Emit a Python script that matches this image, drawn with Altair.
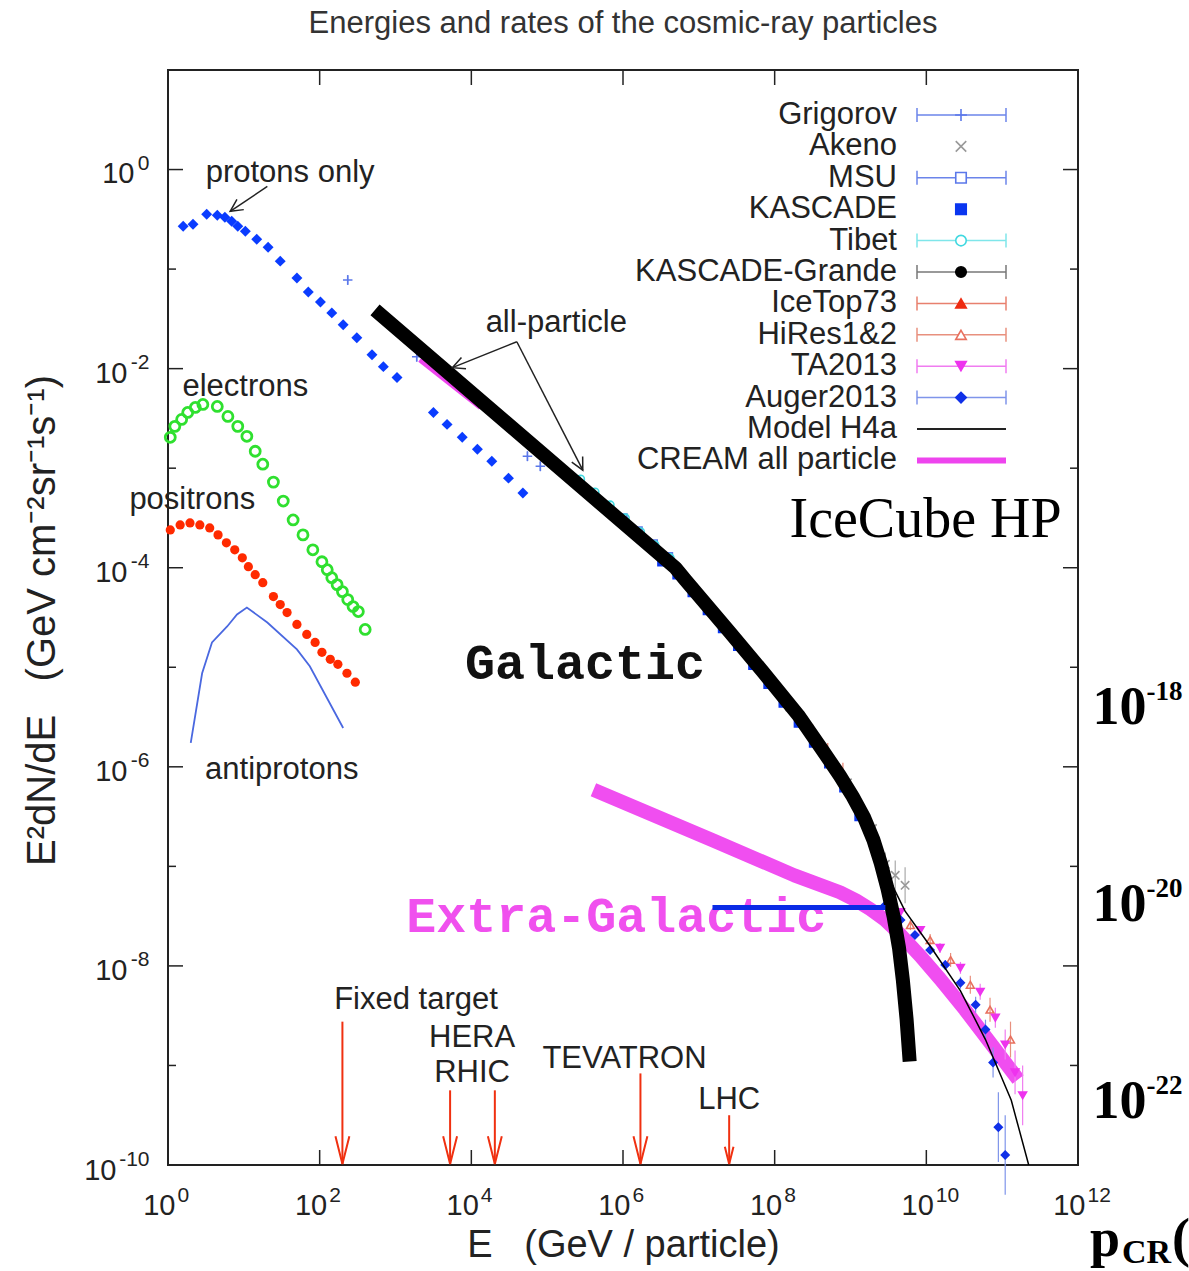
import json
import math
import numpy as np
import pandas as pd
import altair as alt

# ---------------------------------------------------------------------------
# Values: log10(E / GeV) and log10(E^2 dN/dE)
# ---------------------------------------------------------------------------
proton_logE = [0.20, 0.33, 0.51, 0.65, 0.75, 0.84, 0.92, 1.02, 1.17, 1.32, 1.48, 1.70, 1.85, 2.01,
               2.16, 2.31, 2.49, 2.69, 2.84, 3.02, 3.50, 3.68, 3.88, 4.08, 4.27, 4.49, 4.68]
proton_logF = [-0.57, -0.55, -0.45, -0.46, -0.48, -0.52, -0.57, -0.62, -0.70, -0.78, -0.92, -1.09,
               -1.23, -1.33, -1.44, -1.56, -1.69, -1.86, -1.98, -2.09, -2.44, -2.56, -2.69, -2.81,
               -2.93, -3.10, -3.25]

electron_logE = [0.03, 0.09, 0.18, 0.26, 0.36, 0.46, 0.65, 0.79, 0.92, 1.04, 1.15, 1.25, 1.39, 1.52,
                 1.65, 1.78, 1.91, 2.03, 2.10, 2.16, 2.23, 2.30, 2.37, 2.44, 2.51, 2.60]
electron_logF = [-2.69, -2.58, -2.51, -2.44, -2.39, -2.36, -2.38, -2.48, -2.58, -2.68, -2.83, -2.96,
                 -3.14, -3.33, -3.52, -3.67, -3.82, -3.94, -4.02, -4.10, -4.17, -4.24, -4.32, -4.39,
                 -4.44, -4.62]

positron_logE = [0.03, 0.16, 0.29, 0.42, 0.55, 0.66, 0.77, 0.88, 0.98, 1.06, 1.15, 1.25, 1.39, 1.48,
                 1.57, 1.70, 1.83, 1.94, 2.03, 2.14, 2.24, 2.36, 2.47]
positron_logF = [-3.62, -3.57, -3.55, -3.57, -3.60, -3.67, -3.75, -3.82, -3.90, -3.99, -4.07, -4.15,
                 -4.29, -4.37, -4.45, -4.57, -4.67, -4.75, -4.85, -4.92, -4.97, -5.06, -5.15]

antiproton_logE = [0.30, 0.45, 0.58, 0.78, 0.91, 1.04, 1.31, 1.70, 1.87, 2.31]
antiproton_logF = [-5.76, -5.06, -4.75, -4.59, -4.47, -4.40, -4.55, -4.82, -4.99, -5.61]

allpart_logE = [2.73, 6.69, 6.82, 7.40, 7.85, 8.31, 8.62, 8.86, 9.03, 9.18, 9.30, 9.40, 9.49, 9.57,
                9.64, 9.69, 9.74, 9.78]
allpart_logF = [-1.41, -4.00, -4.12, -4.64, -5.05, -5.48, -5.82, -6.09, -6.30, -6.51, -6.73, -6.97,
                -7.23, -7.51, -7.82, -8.14, -8.54, -8.96]

h4a_logE = [5.70, 6.23, 6.69, 6.82, 7.40, 7.85, 8.31, 8.62, 8.86, 9.03, 9.18, 9.30, 9.46, 9.72, 10.05,
            10.45, 10.78, 11.12, 11.35]
h4a_logF = [-3.35, -3.72, -4.00, -4.12, -4.64, -5.05, -5.48, -5.82, -6.09, -6.30, -6.51, -6.70, -7.05,
            -7.45, -7.80, -8.25, -8.74, -9.35, -10.0]

cream_logE = [3.32, 4.12]
cream_logF = [-1.91, -2.39]

extragal_logE = [5.61, 7.19, 8.26, 8.86, 9.07, 9.26, 9.46, 9.65, 9.92, 10.18, 10.51, 10.84, 11.21]
extragal_logF = [-6.23, -6.74, -7.09, -7.26, -7.34, -7.43, -7.54, -7.68, -7.90, -8.13, -8.44, -8.77,
                 -9.14]

# air-shower / direct measurements (logE, logF, error half-width in decades)
grig_logE = [2.37, 3.28, 4.74, 4.91]
grig_logF = [-1.11, -1.88, -2.88, -2.98]
grig_err = [0.05, 0.05, 0.05, 0.05]

tibet_logE = [5.44, 5.63, 5.83, 6.03, 6.23, 6.42, 6.62]
tibet_logF = [-3.11, -3.24, -3.37, -3.50, -3.64, -3.77, -3.90]
tibet_err = [0.03] * 7

msu_logE = [6.0, 6.2, 6.4, 6.6]
msu_logF = [-3.50, -3.63, -3.76, -3.89]
msu_err = [0.03] * 4

kascade_logE = [6.5, 6.7, 6.9, 7.1, 7.3, 7.5, 7.7, 7.9, 8.1, 8.3, 8.5, 8.7, 8.9, 9.1]
kascade_logF = [-3.95, -4.08, -4.26, -4.44, -4.62, -4.80, -4.99, -5.18, -5.37, -5.57, -5.77, -5.98,
                -6.22, -6.51]
kascade_err = [0.0] * 14

kgrande_logE = [7.2, 7.4, 7.6, 7.8, 8.0, 8.2, 8.4]
kgrande_logF = [-4.46, -4.64, -4.82, -5.01, -5.21, -5.40, -5.58]
kgrande_err = [0.03] * 7

icetop_logE = [6.9, 7.1, 7.3, 7.5, 7.7, 7.9, 8.1, 8.3, 8.5, 8.7, 8.9]
icetop_logF = [-4.14, -4.32, -4.50, -4.68, -4.87, -5.06, -5.25, -5.42, -5.63, -5.84, -6.08]
icetop_err = [0.03] * 8 + [0.06, 0.08, 0.12]

akeno_logE = [5.8, 6.2, 6.6, 7.0, 7.4, 7.8, 8.2, 8.6, 8.96, 9.13, 9.29, 9.34, 9.46, 9.59, 9.72]
akeno_logF = [-3.42, -3.68, -3.94, -4.28, -4.64, -4.99, -5.40, -5.79, -6.16, -6.42, -6.62, -6.78,
              -6.98, -7.09, -7.19]
akeno_err = [0.0] * 8 + [0.04, 0.05, 0.06, 0.08, 0.12, 0.15, 0.18]

hires_logE = [9.53, 9.79, 10.05, 10.32, 10.58, 10.84, 11.11]
hires_logF = [-7.39, -7.59, -7.74, -7.94, -8.19, -8.44, -8.74]
hires_err = [0.05, 0.05, 0.06, 0.07, 0.09, 0.12, 0.18]

ta_logE = [9.66, 9.92, 10.18, 10.45, 10.71, 10.91, 11.04, 11.17, 11.27]
ta_logF = [-7.46, -7.64, -7.82, -8.02, -8.26, -8.52, -8.79, -9.07, -9.30]
ta_err = [0.04, 0.04, 0.05, 0.06, 0.08, 0.10, 0.15, 0.22, 0.30]

auger_logE = [9.46, 9.66, 9.85, 10.05, 10.25, 10.45, 10.65, 10.78, 10.88, 10.95, 11.04]
auger_logF = [-7.39, -7.54, -7.69, -7.84, -7.99, -8.17, -8.39, -8.64, -8.97, -9.62, -9.90]
auger_err = [0.03, 0.03, 0.03, 0.04, 0.05, 0.06, 0.08, 0.10, 0.15, 0.35, 0.40]

# IceCube HP horizontal line, in units of the right-hand axis
icecube_logE = [7.18, 9.46]
icecube_logF_right = [-20.03, -20.03]

# collider arrows
arrow_logE = [2.30, 3.72, 4.31, 6.23, 7.40]
arrow_top_logF = [-8.56, -9.25, -9.25, -9.08, -9.50]
arrow_tip_logF = -9.99

# text annotations (label, logE, logF)
notes = [("protons only", 1.61, -0.03), ("electrons", 1.02, -2.18), ("positrons", 0.32, -3.32),
         ("antiprotons", 1.50, -6.03), ("all-particle", 5.12, -1.54), ("Fixed target", 3.27, -8.34),
         ("HERA", 4.01, -8.72), ("RHIC", 4.01, -9.08), ("TEVATRON", 6.02, -8.94), ("LHC", 7.40, -9.35)]

# black pointer arrows (start logE, start logF, tip logE, tip logF)
pointers = [(1.31, -0.17, 0.82, -0.42), (4.60, -1.73, 3.75, -1.99), (4.60, -1.73, 5.47, -3.02)]

legend_labels = ["Grigorov", "Akeno", "MSU", "KASCADE", "Tibet", "KASCADE-Grande", "IceTop73",
                 "HiRes1&2", "TA2013", "Auger2013", "Model H4a", "CREAM all particle"]

# ---------------------------------------------------------------------------
SANS = "Liberation Sans, Arial, Helvetica, sans-serif"
SERIF = "Liberation Serif, Times New Roman, serif"
MONO = "Liberation Mono, Courier New, monospace"
W, H = 910, 1095
PX_PER_DEC_X = W / 12.0
PX_PER_DEC_Y = H / 11.0
NB = "\u00a0"

PLUS = "M-1,0H1M0,-1V1"
CROSS = "M-1,-1L1,1M-1,1L1,-1"

XS = alt.Scale(type="log", domain=[1, 1e12])
YS = alt.Scale(type="log", domain=[1e-10, 10])
RS = alt.Scale(type="log", domain=[10 ** -22.638, 10 ** -11.549])


def xenc():
    return alt.X("E:Q", scale=XS, axis=None)


def yenc():
    return alt.Y("F:Q", scale=YS, axis=None)


def px(field):
    return alt.X(field, scale=None, axis=None)


def py(field):
    return alt.Y(field, scale=None, axis=None)


def table(logE, logF):
    return pd.DataFrame({"E": 10 ** np.array(logE, float), "F": 10 ** np.array(logF, float)})


def expo_expr(lo, hi, show):
    arr = [str(e) if show(e) else "" for e in range(lo, hi + 1)]
    return json.dumps(arr) + "[round(log(datum.value)/LN10)-(%d)]" % lo


layers = []

# ---- axis carriers (invisible) : "10" labels and exponent labels -----------
base_lab = dict(ticks=False, domain=False, grid=False, labelFlush=False, labelOverlap=False,
                labelBound=False, labelColor="#222", labelFont=SANS)
carrier = table(antiproton_logE, antiproton_logF)


def carrier_layer(xaxis=None, yaxis=None):
    return alt.Chart(carrier).mark_point(opacity=0).encode(
        x=alt.X("E:Q", scale=XS, axis=xaxis), y=alt.Y("F:Q", scale=YS, axis=yaxis))


x_ten = alt.Axis(orient="bottom", values=[10.0 ** e for e in range(0, 13, 2)], labelExpr="'10'",
                 labelAlign="right", labelOffset=7, labelPadding=26, labelFontSize=29, **base_lab,
                 title="E" + NB * 3 + "(GeV / particle)", titleFont=SANS, titleFontSize=38,
                 titleFontWeight="normal", titleColor="#222", titleY=80, titleBaseline="middle")
x_exp = alt.Axis(orient="bottom", values=[10.0 ** e for e in range(0, 13, 2)],
                 labelExpr=expo_expr(0, 12, lambda e: True), labelAlign="left", labelOffset=9,
                 labelPadding=19, labelFontSize=21, title=None, **base_lab)
y_ten_a = alt.Axis(orient="left", values=[1.0], labelExpr="'10'", labelPadding=34, labelOffset=4,
                   labelFontSize=29, **base_lab,
                   title="E²dN/dE" + NB * 3 + "(GeV cm⁻²sr⁻¹s⁻¹)", titleFont=SANS, titleFontSize=40,
                   titleFontWeight="normal", titleColor="#222", titleAngle=270,
                   titleX=-126, titleY=550, titleBaseline="middle", titleAlign="center")
y_ten_b = alt.Axis(orient="left", values=[1e-2, 1e-4, 1e-6, 1e-8], labelExpr="'10'", labelPadding=41,
                   labelOffset=5, labelFontSize=29, title=None, **base_lab)
y_ten_c = alt.Axis(orient="left", values=[1e-10], labelExpr="'10'", labelPadding=52, labelOffset=5,
                   labelFontSize=29, title=None, **base_lab)
y_exp = alt.Axis(orient="left", values=[10.0 ** e for e in range(-10, 1, 2)],
                 labelExpr=expo_expr(-10, 0, lambda e: True), labelAlign="right", labelPadding=19,
                 labelOffset=-6, labelFontSize=21, title=None, **base_lab)

layers.append(carrier_layer(xaxis=x_ten, yaxis=y_ten_a))
layers.append(carrier_layer(xaxis=x_exp, yaxis=y_ten_b))
layers.append(carrier_layer(yaxis=y_ten_c))
layers.append(carrier_layer(yaxis=y_exp))

# frame ticks (inward), driven by the scales
xt = pd.DataFrame({"E": [10.0 ** e for e in range(2, 12, 2)]})
for y0, y1 in [(H, H - 15), (0, 15)]:
    layers.append(alt.Chart(xt).mark_rule(color="#222", strokeWidth=1.5).encode(
        x=xenc(), y=alt.value(y0), y2=alt.value(y1)))
yt_major = pd.DataFrame({"F": [10.0 ** e for e in range(-8, 1, 2)]})
yt_minor = pd.DataFrame({"F": [10.0 ** e for e in range(-9, 1, 2)]})
for tbl, ln in [(yt_major, 15), (yt_minor, 8)]:
    for x0, x1 in [(0, ln), (W, W - ln)]:
        layers.append(alt.Chart(tbl).mark_rule(color="#222", strokeWidth=1.5).encode(
            y=yenc(), x=alt.value(x0), x2=alt.value(x1)))

# antiprotons
layers.append(alt.Chart(table(antiproton_logE, antiproton_logF)).mark_line(
    color="#4a68e0", strokeWidth=1.8).encode(x=xenc(), y=yenc()))

# CREAM segment
layers.append(alt.Chart(table(cream_logE, cream_logF)).mark_line(
    color="#ee44ee", strokeWidth=5).encode(x=xenc(), y=yenc()))

# measurement error bars and points
surveys = [
    ("Grigorov", grig_logE, grig_logF, grig_err, PLUS, "#5b78ea", "transparent", "#6b84ea", 90),
    ("Akeno", akeno_logE, akeno_logF, akeno_err, CROSS, "#999999", "transparent", "#aaaaaa", 70),
    ("MSU", msu_logE, msu_logF, msu_err, "square", "#5b78ea", "transparent", "#6b84ea", 60),
    ("KASCADE", kascade_logE, kascade_logF, kascade_err, "square", "#0a36f0", "#0a36f0", "#0a36f0", 35),
    ("Tibet", tibet_logE, tibet_logF, tibet_err, "circle", "#40d8e0", "transparent", "#7fe6ea", 60),
    ("KASCADE-Grande", kgrande_logE, kgrande_logF, kgrande_err, "circle", "#000000", "#000000", "#777777", 60),
    ("IceTop73", icetop_logE, icetop_logF, icetop_err, "triangle-up", "#ee2a10", "#ee2a10", "#e8806e", 45),
    ("HiRes1&2", hires_logE, hires_logF, hires_err, "triangle-up", "#e8705e", "transparent", "#e8907e", 60),
    ("TA2013", ta_logE, ta_logF, ta_err, "triangle-down", "#ee33ee", "#ee33ee", "#f07cf0", 60),
    ("Auger2013", auger_logE, auger_logF, auger_err, "diamond", "#1030e8", "#1030e8", "#7f95ea", 60),
]
pts, errs = [], []
for name, le, lf, er, shp, stroke, fill, bar, size in surveys:
    for e, f, d in zip(le, lf, er):
        pts.append({"E": 10 ** e, "F": 10 ** f, "shape": shp, "stroke": stroke, "fill": fill, "size": size})
        if d > 0:
            errs.append({"E": 10 ** e, "Flo": 10 ** (f - d), "Fhi": 10 ** (f + d), "c": bar})
pts = pd.DataFrame(pts)
errs = pd.DataFrame(errs)

# extra-galactic thick magenta curve
layers.append(alt.Chart(table(extragal_logE, extragal_logF)).mark_line(
    color="#f04ef0", strokeWidth=14, strokeCap="butt", strokeJoin="round", clip=True).encode(
    x=xenc(), y=yenc()))

layers.append(alt.Chart(errs).mark_rule(strokeWidth=1.2).encode(
    x=xenc(), y=alt.Y("Flo:Q", scale=YS, axis=None), y2="Fhi:Q",
    color=alt.Color("c:N", scale=None)))
layers.append(alt.Chart(pts).mark_point(opacity=1, strokeWidth=1.6).encode(
    x=xenc(), y=yenc(), shape=alt.Shape("shape:N", scale=None),
    stroke=alt.Stroke("stroke:N", scale=None), fill=alt.Fill("fill:N", scale=None),
    size=alt.Size("size:Q", scale=None)))

# all-particle thick black line and H4a model
layers.append(alt.Chart(table(allpart_logE, allpart_logF)).mark_line(
    color="black", strokeWidth=14, strokeCap="butt", strokeJoin="round").encode(x=xenc(), y=yenc()))
layers.append(alt.Chart(table(h4a_logE, h4a_logF)).mark_line(
    color="black", strokeWidth=1.5, clip=True).encode(x=xenc(), y=yenc()))

# protons, electrons, positrons
layers.append(alt.Chart(table(proton_logE, proton_logF)).mark_point(
    shape="diamond", filled=True, color="#0a3cff", size=120, opacity=1).encode(x=xenc(), y=yenc()))
layers.append(alt.Chart(table(electron_logE, electron_logF)).mark_point(
    shape="circle", filled=False, color="#2fe02f", size=100, strokeWidth=2.8, opacity=1).encode(
    x=xenc(), y=yenc()))
layers.append(alt.Chart(table(positron_logE, positron_logF)).mark_point(
    shape="circle", filled=True, color="#ff2a00", size=85, opacity=1).encode(x=xenc(), y=yenc()))

# collider arrows
arr = pd.DataFrame({"E": [10 ** v for v in arrow_logE], "Ftop": [10 ** v for v in arrow_top_logF],
                    "F": [10 ** arrow_tip_logF] * len(arrow_logE),
                    "sz": [3100, 3100, 3100, 3100, 1200]})
layers.append(alt.Chart(arr).mark_rule(color="#f03010", strokeWidth=2).encode(
    x=xenc(), y=alt.Y("Ftop:Q", scale=YS, axis=None), y2="F:Q"))
layers.append(alt.Chart(arr).mark_point(shape="M-0.25,-1L0,0L0.25,-1", filled=False,
                                        color="#f03010", strokeWidth=2, opacity=1).encode(
    x=xenc(), y=yenc(), size=alt.Size("sz:Q", scale=None)))

# black pointer arrows
prow, hrow = [], []
for se, sf, te, tf in pointers:
    prow.append({"E": 10 ** se, "F": 10 ** sf, "E2": 10 ** te, "F2": 10 ** tf})
    dx = (te - se) * PX_PER_DEC_X
    dy = -(tf - sf) * PX_PER_DEC_Y
    ang = math.degrees(math.atan2(-dx, dy)) % 360
    hrow.append({"E": 10 ** te, "F": 10 ** tf, "ang": ang})
layers.append(alt.Chart(pd.DataFrame(prow)).mark_rule(color="#222", strokeWidth=1.5).encode(
    x=xenc(), y=yenc(), x2="E2:Q", y2="F2:Q"))
layers.append(alt.Chart(pd.DataFrame(hrow)).mark_point(
    shape="M-0.5,-1L0,0L0.5,-1", filled=False, color="#222", strokeWidth=1.5, size=600, opacity=1).encode(
    x=xenc(), y=yenc(), angle=alt.Angle("ang:Q", scale=None)))

# annotations
nt = pd.DataFrame({"t": [n[0] for n in notes], "E": [10 ** n[1] for n in notes],
                   "F": [10 ** n[2] for n in notes]})
layers.append(alt.Chart(nt).mark_text(font=SANS, fontSize=31, color="#222", baseline="middle").encode(
    x=xenc(), y=yenc(), text="t:N"))

big = pd.DataFrame({"t": ["Galactic", "Extra-Galactic"], "E": [10 ** 5.50, 10 ** 5.91],
                    "F": [10 ** -4.97, 10 ** -7.51], "c": ["#111111", "#f050ee"]})
layers.append(alt.Chart(big).mark_text(font=MONO, fontSize=50, fontWeight="bold", baseline="middle").encode(
    x=xenc(), y=yenc(), text="t:N", color=alt.Color("c:N", scale=None)))

ic_txt = pd.DataFrame({"t": ["IceCube HP"], "E": [10 ** 9.99], "F": [10 ** -3.52]})
layers.append(alt.Chart(ic_txt).mark_text(font=SERIF, fontSize=56, color="black", baseline="middle").encode(
    x=xenc(), y=yenc(), text="t:N"))

# legend (text left, sample right)
n = len(legend_labels)
row_y = [45 + i * 31.4 for i in range(n)]
lab_x, bar_x0, bar_x1, mk_x = 729, 749, 838, 793
leg_txt = pd.DataFrame({"t": legend_labels, "x": [lab_x] * n, "y": row_y})
layers.append(alt.Chart(leg_txt).mark_text(font=SANS, fontSize=31, color="#222", align="right",
                                            baseline="middle").encode(
    x=px("x:Q"), y=py("y:Q"), text="t:N"))

style = {s[0]: s for s in surveys}
bars, caps, marks = [], [], []
for i, lab in enumerate(legend_labels):
    y = row_y[i]
    if lab in style:
        _, _, _, _, shp, stroke, fill, bar, size = style[lab]
        if lab not in ("Akeno", "KASCADE"):
            bars.append({"x0": bar_x0, "x1": bar_x1, "y": y, "c": bar, "w": 1.5})
            caps.append({"x": bar_x0, "y0": y - 7, "y1": y + 7, "c": bar})
            caps.append({"x": bar_x1, "y0": y - 7, "y1": y + 7, "c": bar})
        marks.append({"x": mk_x, "y": y, "shape": shp, "stroke": stroke,
                      "fill": "white" if fill == "transparent" and lab != "Akeno" else fill,
                      "size": 110 if lab != "Grigorov" else 140})
    elif lab == "Model H4a":
        bars.append({"x0": bar_x0, "x1": bar_x1, "y": y, "c": "#222222", "w": 2})
    else:
        bars.append({"x0": bar_x0, "x1": bar_x1, "y": y, "c": "#ee44ee", "w": 6})
bars, caps, marks = pd.DataFrame(bars), pd.DataFrame(caps), pd.DataFrame(marks)
layers.append(alt.Chart(bars).mark_rule().encode(
    x=px("x0:Q"), x2="x1:Q", y=py("y:Q"),
    color=alt.Color("c:N", scale=None), strokeWidth=alt.StrokeWidth("w:Q", scale=None)))
layers.append(alt.Chart(caps).mark_rule(strokeWidth=1.5).encode(
    x=px("x:Q"), y=py("y0:Q"), y2="y1:Q", color=alt.Color("c:N", scale=None)))
layers.append(alt.Chart(marks).mark_point(opacity=1, strokeWidth=1.6).encode(
    x=px("x:Q"), y=py("y:Q"), shape=alt.Shape("shape:N", scale=None),
    stroke=alt.Stroke("stroke:N", scale=None), fill=alt.Fill("fill:N", scale=None),
    size=alt.Size("size:Q", scale=None)))

# p_CR( label at the lower right
pcr = pd.DataFrame({"t": ["p", "CR", "("], "x": [922, 954, 1004], "y": [1186, 1193, 1186],
                    "fs": [54, 34, 54]})
layers.append(alt.Chart(pcr).mark_text(font=SERIF, fontWeight="bold", color="black", align="left",
                                        baseline="alphabetic").encode(
    x=px("x:Q"), y=py("y:Q"), text="t:N", size=alt.Size("fs:Q", scale=None)))

# ---- secondary (right-hand) axis with the IceCube HP line -------------------
r_base = dict(ticks=False, domain=False, grid=False, labelFlush=False, labelOverlap=False,
              labelBound=False, labelFont=SERIF, labelFontWeight="bold", labelColor="black", title=None)
r_ten = alt.Axis(orient="right", values=[1e-18, 1e-20, 1e-22], labelExpr="'10'", labelAlign="left",
                 labelPadding=14, labelFontSize=54, **r_base)
r_exp = alt.Axis(orient="right", values=[1e-18, 1e-20, 1e-22],
                 labelExpr=expo_expr(-22, -18, lambda e: True), labelAlign="left",
                 labelPadding=68, labelOffset=-16, labelFontSize=27, **r_base)
ic = pd.DataFrame({"E": [10 ** v for v in icecube_logE], "Fr": [10 ** v for v in icecube_logF_right]})
layers.append(alt.Chart(ic).mark_point(opacity=0).encode(
    x=xenc(), y=alt.Y("Fr:Q", scale=RS, axis=r_exp)))
layers.append(alt.Chart(ic).mark_line(color="#0a2be6", strokeWidth=5).encode(
    x=xenc(), y=alt.Y("Fr:Q", scale=RS, axis=r_ten)))

chart = alt.layer(*layers).resolve_scale(y="independent").resolve_axis(
    x="independent", y="independent").properties(
    width=W, height=H,
    title=alt.TitleParams("Energies and rates of the cosmic-ray particles", font=SANS, fontSize=31,
                          fontWeight="normal", color="#333", anchor="middle", frame="group",
                          baseline="middle", offset=14),
    padding={"left": 168, "top": 70, "right": 111, "bottom": 106},
    autosize=alt.AutoSizeParams(type="none"),
).configure_view(stroke="#222", strokeWidth=2)

chart.save("out.html", embed_options={"renderer": "svg", "actions": False})
